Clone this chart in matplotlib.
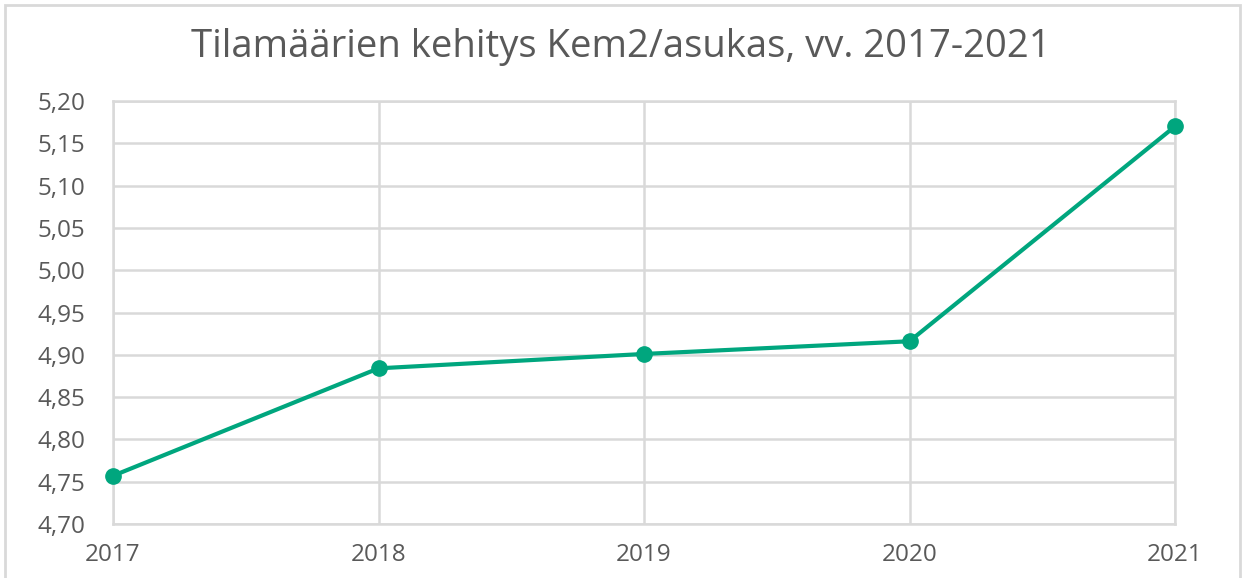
import matplotlib
matplotlib.use("Agg")
import matplotlib.pyplot as plt
from matplotlib.patches import Rectangle

# Chart data
years = ["2017", "2018", "2019", "2020", "2021"]
kem2_per_resident = [4.757, 4.884, 4.901, 4.916, 5.170]
y_ticks = [4.70, 4.75, 4.80, 4.85, 4.90, 4.95, 5.00, 5.05, 5.10, 5.15, 5.20]
y_tick_labels = [f"{v:.2f}".replace(".", ",") for v in y_ticks]

plt.rcParams['font.family'] = ['Open Sans', 'DejaVu Sans']

fig = plt.figure(figsize=(12.42, 5.78), dpi=100)
ax = fig.add_axes([113 / 1242, 1 - 524 / 578, (1175 - 113) / 1242, (524 - 101) / 578])

x = list(range(len(years)))
ax.plot(x, kem2_per_resident, color="#00a67e", linewidth=3, marker="o",
        markersize=11, zorder=5, clip_on=False)

ax.set_xlim(0, len(years) - 1)
ax.set_ylim(y_ticks[0], y_ticks[-1])
ax.set_xticks(x)
ax.set_xticklabels(years)
ax.set_yticks(y_ticks)
ax.set_yticklabels(y_tick_labels)

ax.grid(True, color="#d9d9d9", linewidth=1.8)
ax.set_axisbelow(True)
for side in ax.spines.values():
    side.set_color("#d9d9d9")
    side.set_linewidth(1.8)
ax.tick_params(length=0, labelsize=17.5, colors="#595959")
ax.tick_params(axis="y", pad=20)
ax.tick_params(axis="x", pad=14)

fig.text(0.5, 1 - 47 / 578, "Tilamäärien kehitys Kem2/asukas, vv. 2017-2021",
         ha="center", va="center", fontsize=27.5, color="#595959")

# outer chart border
fig.patches.append(Rectangle((5 / 1242, -0.01), 1 - 7 / 1242, 1 - 5 / 578 + 0.01,
                             transform=fig.transFigure, fill=False,
                             edgecolor="#d9d9d9", linewidth=2))

fig.savefig("out.png", dpi=100)
